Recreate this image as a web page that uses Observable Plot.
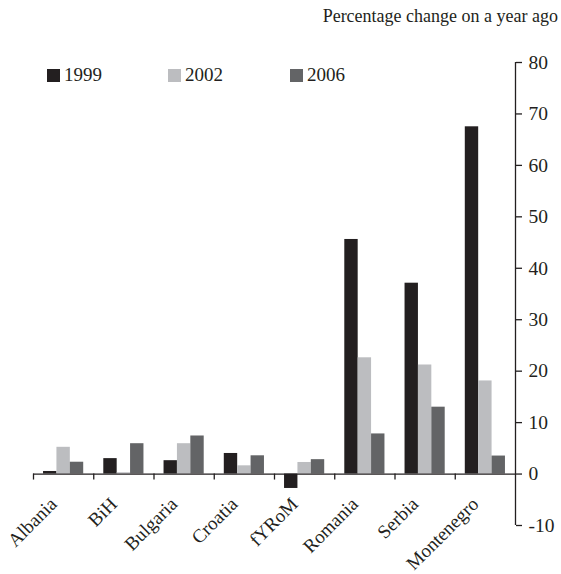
<!DOCTYPE html>
<html>
<head>
<meta charset="utf-8">
<script src="https://cdn.jsdelivr.net/npm/d3@7"></script>
<script src="https://cdn.jsdelivr.net/npm/@observablehq/plot@0.6"></script>
<style>
  body { margin: 0; background: #fff; }
  #wrap { position: relative; width: 561px; height: 574px; font-family: "Liberation Serif", "Times New Roman", serif; color: #231f20; }
  #title { position: absolute; right: 3px; top: 6px; font-size: 18px; white-space: nowrap; }
  #legend { position: absolute; left: 0; top: 64px; width: 400px; height: 24px; }
  .item { position: absolute; top: 0; font-size: 19px; line-height: 22px; white-space: nowrap; }
  .sw { display: inline-block; width: 13px; height: 13px; margin-right: 4px; vertical-align: -1px; }
  svg { position: absolute; left: 0; top: 0; }
</style>
</head>
<body>
<div id="wrap">
  <div id="title">Percentage change on a year ago</div>
  <div id="legend"></div>
</div>
<script>
const categories = ["Albania", "BiH", "Bulgaria", "Croatia", "fYRoM", "Romania", "Serbia", "Montenegro"];
const seriesNames = ["1999", "2002", "2006"];
const values1999 = [0.5, 3.0, 2.6, 4.0, -2.8, 45.6, 37.1, 67.5];
const values2002 = [5.2, 0.25, 5.9, 1.6, 2.25, 22.6, 21.2, 18.1];
const values2006 = [2.3, 5.9, 7.4, 3.55, 2.8, 7.8, 13.0, 3.5];
const yTicks = [-10, 0, 10, 20, 30, 40, 50, 60, 70, 80];
const colors = ["#231f20", "#bcbdc0", "#636466"];

const seriesValues = [values1999, values2002, values2006];
const data = [];
categories.forEach((c, i) => {
  seriesNames.forEach((s, j) => {
    data.push({category: c, ci: i, series: s, sj: j, value: seriesValues[j][i]});
  });
});

// each category occupies one unit on x; the three bars fill the middle two thirds
const barW = 2 / 9;
const groupStart = 1 / 6;

const ink = "#231f20";
const chart = Plot.plot({
  width: 561,
  height: 574,
  marginTop: 62,
  marginBottom: 49,
  marginLeft: 33,
  marginRight: 46,
  style: {fontFamily: "'Liberation Serif', 'Times New Roman', serif", fontSize: "19px", color: ink, background: "transparent"},
  x: {domain: [0, categories.length], axis: null},
  y: {domain: [-10, 80], axis: null},
  color: {domain: seriesNames, range: colors},
  marks: [
    Plot.rectY(data, {
      x1: d => d.ci + groupStart + d.sj * barW,
      x2: d => d.ci + groupStart + (d.sj + 1) * barW,
      y1: 0,
      y2: "value",
      fill: "series"
    }),
    Plot.ruleY([0], {stroke: ink, strokeWidth: 1.3}),
    Plot.ruleX(d3.range(0, categories.length), {x: d => d, y1: () => 0, y2: () => 0, insetBottom: -6, stroke: ink, strokeWidth: 1.3}),
    Plot.ruleX([categories.length], {stroke: ink, strokeWidth: 1.3}),
    Plot.axisY({anchor: "right", ticks: yTicks, tickFormat: d => String(d), tickSize: 6, tickPadding: 7, label: null, stroke: ink, strokeWidth: 1.3, fontSize: 19.5, fill: ink}),
    Plot.text(categories, {
      x: (d, i) => i + 0.5,
      y: () => 0,
      text: d => d,
      rotate: -45,
      textAnchor: "end",
      dx: -10,
      dy: 27,
      fontSize: 19,
      fill: ink
    })
  ]
});
document.getElementById("wrap").appendChild(chart);

const legendLefts = [47, 168, 290];
const legend = document.getElementById("legend");
seriesNames.forEach((s, j) => {
  const item = document.createElement("div");
  item.className = "item";
  item.style.left = legendLefts[j] + "px";
  const sw = document.createElement("span");
  sw.className = "sw";
  sw.style.background = colors[j];
  item.appendChild(sw);
  item.appendChild(document.createTextNode(s));
  legend.appendChild(item);
});
</script>
</body>
</html>
